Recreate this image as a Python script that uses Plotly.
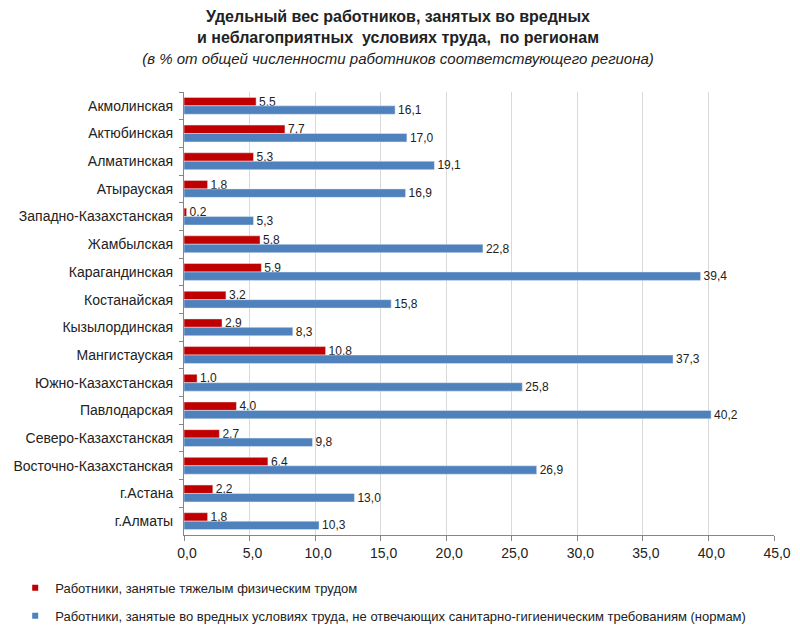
import plotly.graph_objects as go

regions = ['Акмолинская', 'Актюбинская', 'Алматинская', 'Атырауская',
           'Западно-Казахстанская', 'Жамбылская', 'Карагандинская', 'Костанайская',
           'Кызылординская', 'Мангистауская', 'Южно-Казахстанская', 'Павлодарская',
           'Северо-Казахстанская', 'Восточно-Казахстанская', 'г.Астана', 'г.Алматы']
heavy = [5.5, 7.7, 5.3, 1.8, 0.2, 5.8, 5.9, 3.2, 2.9, 10.8, 1.0, 4.0, 2.7, 6.4, 2.2, 1.8]
harmful = [16.1, 17.0, 19.1, 16.9, 5.3, 22.8, 39.4, 15.8, 8.3, 37.3, 25.8, 40.2, 9.8, 26.9, 13.0, 10.3]
x_ticks = [0, 5, 10, 15, 20, 25, 30, 35, 40, 45]

name_heavy = 'Работники, занятые тяжелым физическим трудом'
name_harm = 'Работники, занятые во вредных условиях труда, не отвечающих санитарно-гигиеническим требованиям (нормам)'

RED = '#C00000'
BLUE = '#4F81BD'

def fmt(v):
    return f'{v:.1f}'.replace('.', ',')

fig = go.Figure()
for vals, color in [(heavy, RED), (harmful, BLUE)]:
    fig.add_trace(go.Bar(y=regions, x=vals, orientation='h', showlegend=False,
                         marker=dict(color=color),
                         text=[fmt(v) for v in vals], textposition='outside',
                         constraintext='none',
                         textfont=dict(size=12, color='#222'),
                         cliponaxis=False))
# legend entries with small square keys, like the original
for nm, color, grp in [(name_heavy, RED, 'a'), (name_harm, BLUE, 'b')]:
    fig.add_trace(go.Scatter(x=[None], y=[None], mode='markers', name=nm,
                             legendgroup=grp,
                             marker=dict(symbol='square', size=6, color=color)))

title = ('<b>Удельный вес работников, занятых во вредных<br>'
         'и неблагоприятных  условиях труда,  по регионам</b><br>'
         '<span style="font-size:15px"><i>(в % от общей численности работников '
         'соответствующего региона)</i></span>')

# the page body adds ~8px offset, margins below allow for it
fig.update_layout(
    width=800, height=629,
    margin=dict(l=176, r=34, t=84, b=102, autoexpand=False),
    paper_bgcolor='white', plot_bgcolor='white',
    barmode='group', bargap=0.39, bargroupgap=0,
    font=dict(family='Liberation Sans, Arial, sans-serif', color='#222'),
    title=dict(text=title, x=0.4875, xref='container', xanchor='center',
               y=0.977, yref='container', yanchor='top',
               font=dict(size=16, color='#222')),
    legend=dict(xref='container', yref='container', x=0.009, y=0.102,
                xanchor='left', yanchor='top', orientation='v',
                tracegroupgap=8, font=dict(size=13, color='#222'),
                itemwidth=30),
    showlegend=True,
)
fig.update_xaxes(range=[0, 45], tickvals=x_ticks, ticktext=[fmt(v) for v in x_ticks],
                 showgrid=True, gridcolor='#D9D9D9', gridwidth=1,
                 showline=True, linecolor='#868686', ticks='outside', ticklen=5,
                 tickcolor='#868686', zeroline=False, ticklabelshift=3,
                 ticklabeloverflow='allow',
                 tickfont=dict(size=14, color='#222'))
fig.update_yaxes(autorange='reversed', showline=True, linecolor='#868686',
                 ticks='outside', tickson='boundaries', ticklen=4, tickcolor='#868686',
                 ticklabelstandoff=7,
                 showgrid=False, tickfont=dict(size=14, color='#222'))

fig.write_html('out.html')
